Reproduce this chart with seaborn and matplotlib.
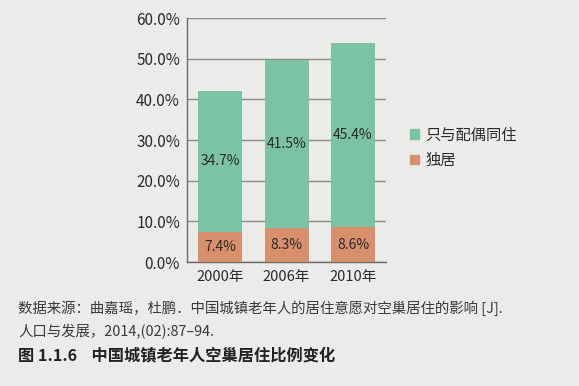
"""Stacked bars: share of urban elderly living in empty nests, China."""

import matplotlib
matplotlib.use("Agg")
import matplotlib.pyplot as plt
import matplotlib.ticker as mticker
from matplotlib.patches import Patch
import pandas as pd
import seaborn as sns

years = ["2000年", "2006年", "2010年"]
alone = [7.4, 8.3, 8.6]          # 独居
with_spouse = [34.7, 41.5, 45.4]  # 只与配偶同住
series_names = ["只与配偶同住", "独居"]

GREEN = "#7cc3a5"
ORANGE = "#d8906c"
PAGE = "#ebebe9"
INK = "#2a2a2a"


def main():
    sns.set_theme(style="white")
    plt.rcParams["font.family"] = ["Noto Sans CJK SC", "DejaVu Sans"]

    df = pd.DataFrame({"year": years, "alone": alone, "spouse": with_spouse})
    df["total"] = df["alone"] + df["spouse"]

    fig = plt.figure(figsize=(5.79, 3.86), dpi=100, facecolor=PAGE)
    ax = fig.add_axes([0.323, 0.321, 0.344, 0.632], facecolor=PAGE)

    sns.barplot(data=df, x="year", y="total", color=GREEN, width=0.66,
                saturation=1, linewidth=0, ax=ax, zorder=3)
    sns.barplot(data=df, x="year", y="alone", color=ORANGE, width=0.66,
                saturation=1, linewidth=0, ax=ax, zorder=3)

    for i, row in df.iterrows():
        ax.text(i, row["alone"] / 2, f"{row['alone']:.1f}%", ha="center",
                va="center", fontsize=10, color=INK, zorder=4)
        ax.text(i, row["alone"] + row["spouse"] / 2, f"{row['spouse']:.1f}%",
                ha="center", va="center", fontsize=10, color=INK, zorder=4)

    ax.set_ylim(0, 60)
    ax.set_xlim(-0.5, 2.5)
    ax.yaxis.set_major_locator(mticker.MultipleLocator(10))
    ax.yaxis.set_major_formatter(mticker.FuncFormatter(lambda v, _: f"{v:.1f}%"))
    ax.grid(axis="y", color="#8a8a8a", linewidth=1.0, zorder=0)
    ax.set_xlabel("")
    ax.set_ylabel("")
    ax.tick_params(axis="y", length=0, labelsize=11, labelcolor=INK, pad=5)
    ax.tick_params(axis="x", length=0, labelsize=10.5, labelcolor=INK, pad=6)
    for s in ["top", "right"]:
        ax.spines[s].set_visible(False)
    for s in ["left", "bottom"]:
        ax.spines[s].set_color("#6a6a6a")
        ax.spines[s].set_linewidth(1.0)

    handles = [Patch(color=GREEN), Patch(color=ORANGE)]
    fig.legend(handles, series_names, loc="upper left",
               bbox_to_anchor=(0.685, 0.708), frameon=False, fontsize=11,
               handlelength=0.55, handleheight=0.55, handletextpad=0.45,
               labelspacing=0.55, labelcolor=INK)

    fig.text(0.031, 0.202,
             "数据来源：曲嘉瑶，杜鹏．中国城镇老年人的居住意愿对空巢居住的影响 [J].",
             fontsize=10.4, color="#3a3a3a", va="center")
    fig.text(0.031, 0.140, "人口与发展，2014,(02):87–94.",
             fontsize=10.4, color="#3a3a3a", va="center")
    fig.text(0.031, 0.080, "图 1.1.6    中国城镇老年人空巢居住比例变化",
             fontsize=11.7, fontweight="bold", color="#222222", va="center")

    fig.savefig("out.png", dpi=100, facecolor=PAGE)


if __name__ == "__main__":
    main()
